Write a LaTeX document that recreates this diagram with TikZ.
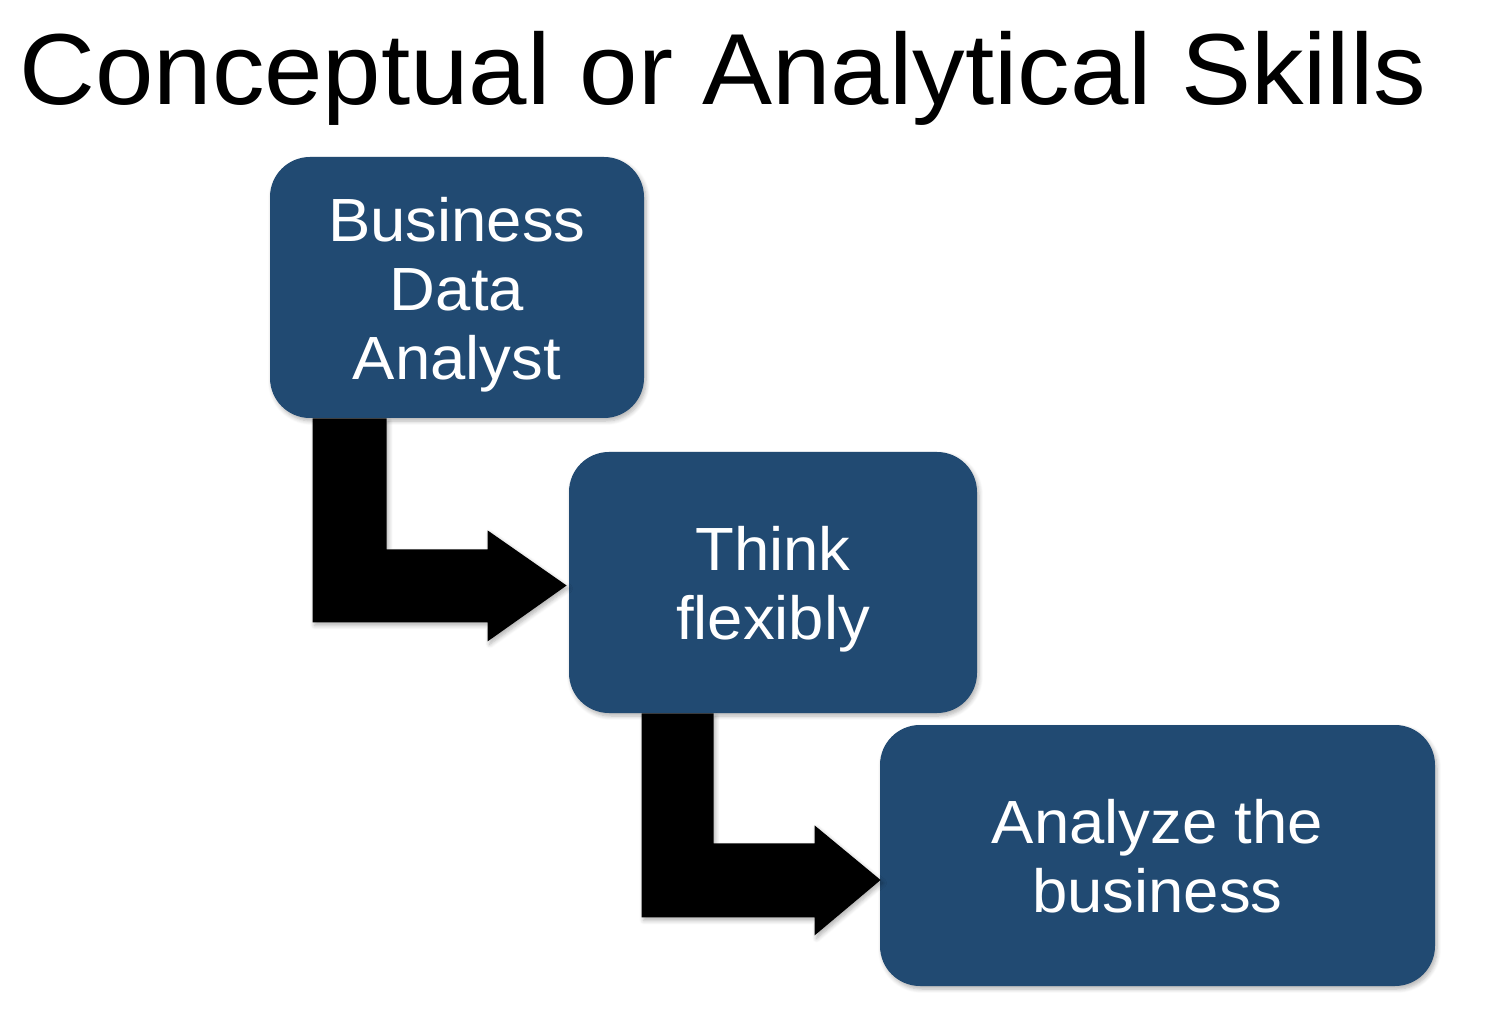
\documentclass[tikz,border=0pt]{standalone}
\usepackage{fontspec}
\setmainfont{Liberation Sans}[FakeStretch=1.04]
\usetikzlibrary{calc,shadows.blur}
\definecolor{boxblue}{RGB}{33,74,114}
\tikzset{
  bluebox/.style={fill=boxblue, rounded corners=20pt, inner sep=0pt,
    blur shadow={shadow xshift=1pt, shadow yshift=-1.5pt, shadow blur steps=6, shadow opacity=30}},
  boxtext/.style={text=white, align=center, inner sep=0pt,
    font=\fontsize{30.5pt}{34.5pt}\selectfont},
  elbow/.style={fill=black,
    blur shadow={shadow xshift=1pt, shadow yshift=-1.5pt, shadow blur steps=6, shadow opacity=30}}
}
\begin{document}
\begin{tikzpicture}[x=0.5pt,y=-0.5pt]
\useasboundingbox (0,0) rectangle (1496,1016);
\node[anchor=base west, inner sep=0pt, font=\fontsize{50.5pt}{56pt}\selectfont] (title) at (19,105) {Conceptual or Analytical Skills};

\node[bluebox, minimum width=187pt, minimum height=130.5pt] (b1) at (457,287.5) {};
\node[bluebox, minimum width=204pt, minimum height=130.5pt] (b2) at (773,582.5) {};
\node[bluebox, minimum width=277.5pt, minimum height=130.5pt] (b3) at (1157.5,855.5) {};
\node[boxtext] (t1) at ($(b1.center)+(0,7)$) {Business\\Data\\Analyst};
\node[boxtext] (t2) at ($(b2.center)+(0,7)$) {Think\\flexibly};
\node[boxtext] (t3) at ($(b3.center)+(0,1)$) {Analyze the\\business};

\fill[elbow] ($(b1.south west)+(43,0)$) -- ($(b1.south west)+(117,0)$) -- ($(b1.south west)+(117,131)$)
  -- ($(b1.south west)+(218,131)$) -- ($(b1.south west)+(218,112)$) -- ($(b2.west)+(-2,3)$)
  -- ($(b1.south west)+(218,223)$) -- ($(b1.south west)+(218,204)$) -- ($(b1.south west)+(43,204)$) -- cycle;
\fill[elbow] ($(b2.south west)+(73,0)$) -- ($(b2.south west)+(145,0)$) -- ($(b2.south west)+(145,130)$)
  -- ($(b2.south west)+(246,130)$) -- ($(b2.south west)+(246,112)$) -- ($(b3.west)+(1,24.5)$)
  -- ($(b2.south west)+(246,222)$) -- ($(b2.south west)+(246,204)$) -- ($(b2.south west)+(73,204)$) -- cycle;
\end{tikzpicture}
\end{document}
